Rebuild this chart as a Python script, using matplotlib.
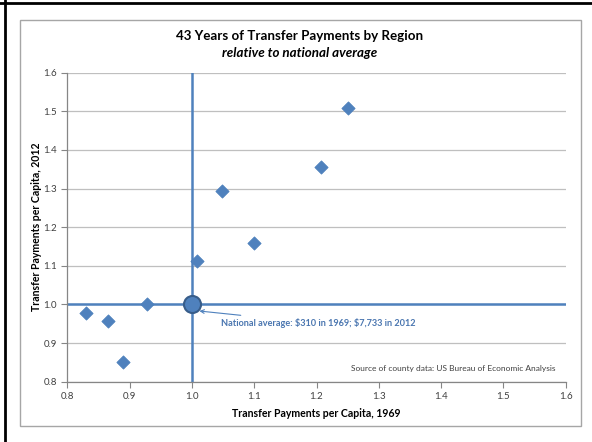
import matplotlib
matplotlib.use("Agg")
import matplotlib.pyplot as plt
from matplotlib.patches import Rectangle
from matplotlib.lines import Line2D

plt.rcParams['font.family'] = ['Lato', 'DejaVu Sans']

x_1969 = [0.830, 0.865, 0.890, 0.928, 1.008, 1.048, 1.099, 1.208, 1.250]
y_2012 = [0.979, 0.957, 0.851, 1.000, 1.113, 1.294, 1.158, 1.355, 1.508]
nat_avg = (1.0, 1.0)
x_ticks = [0.8, 0.9, 1.0, 1.1, 1.2, 1.3, 1.4, 1.5, 1.6]
y_ticks = [0.8, 0.9, 1.0, 1.1, 1.2, 1.3, 1.4, 1.5, 1.6]

W, H = 592, 442
fig = plt.figure(figsize=(W / 100, H / 100), dpi=100)
fig.patch.set_facecolor('white')

# outer borders (top & left black), inner gray chart frame
fig.add_artist(Line2D([0, 1], [1 - 2.7 / H, 1 - 2.7 / H], color='black', lw=2.0, transform=fig.transFigure))
fig.add_artist(Line2D([5.3 / W, 5.3 / W], [0, 1], color='black', lw=2.0, transform=fig.transFigure))
fig.add_artist(Rectangle((20 / W, 16 / H), 561 / W, 406.5 / H, transform=fig.transFigure,
                         fill=False, edgecolor='#A6A6A6', lw=1.0))

ax = fig.add_axes([67.3 / W, (H - 381.7) / H, (565.7 - 67.3) / W, (381.7 - 72.7) / H])
ax.set_xlim(0.8, 1.6)
ax.set_ylim(0.8, 1.6)
ax.set_xticks(x_ticks)
ax.set_yticks(y_ticks)
ax.set_xticklabels([f"{v:.1f}" for v in x_ticks])
ax.set_yticklabels([f"{v:.1f}" for v in y_ticks])
ax.tick_params(axis='both', labelsize=7, colors='#404040', length=4, width=0.8, direction='out')
ax.tick_params(axis='both', color='#868686')
ax.grid(axis='y', color='#BFBFBF', lw=0.9)
ax.set_axisbelow(True)
for s in ['top', 'right']:
    ax.spines[s].set_visible(False)
for s in ['left', 'bottom']:
    ax.spines[s].set_color('#868686')
    ax.spines[s].set_linewidth(0.9)

blue = '#4F81BD'
ax.axvline(nat_avg[0], color=blue, lw=1.8, zorder=2)
ax.axhline(nat_avg[1], color=blue, lw=1.8, zorder=2)

ax.scatter(x_1969, y_2012, marker='D', s=46, color=blue, edgecolor='#4A7EBB', lw=0.5, zorder=3)
ax.scatter([nat_avg[0]], [nat_avg[1]], marker='o', s=150, color=blue, edgecolor='#385D8A', lw=1.5, zorder=4)

ax.annotate(r'National average: \$310 in 1969; \$7,733 in 2012', xy=(1.012, 0.983), xytext=(1.047, 0.951),
            fontsize=6.6, fontweight='bold', color='#4A76B0', va='center', ha='left',
            arrowprops=dict(arrowstyle='->', color=blue, lw=0.8, shrinkA=2, shrinkB=0))

ax.text(1.584, 0.835, 'Source of county data: US Bureau of Economic Analysis', fontsize=6,
        color='#404040', ha='right', va='center')

ax.set_xlabel('Transfer Payments per Capita, 1969', fontsize=7.6, fontweight='bold', labelpad=5)
fig.text(37 / W, 1 - 227 / H, 'Transfer Payments per Capita, 2012', fontsize=7.6, fontweight='bold',
         rotation=90, ha='center', va='center')

fig.text(300 / W, 1 - 36 / H, '43 Years of Transfer Payments by Region', fontsize=9.6,
         fontweight='bold', ha='center', va='center')
fig.text(300 / W, 1 - 53 / H, 'relative to national average', fontsize=9.6,
         fontweight='bold', style='italic', ha='center', va='center')

fig.savefig('out.png', dpi=100)
